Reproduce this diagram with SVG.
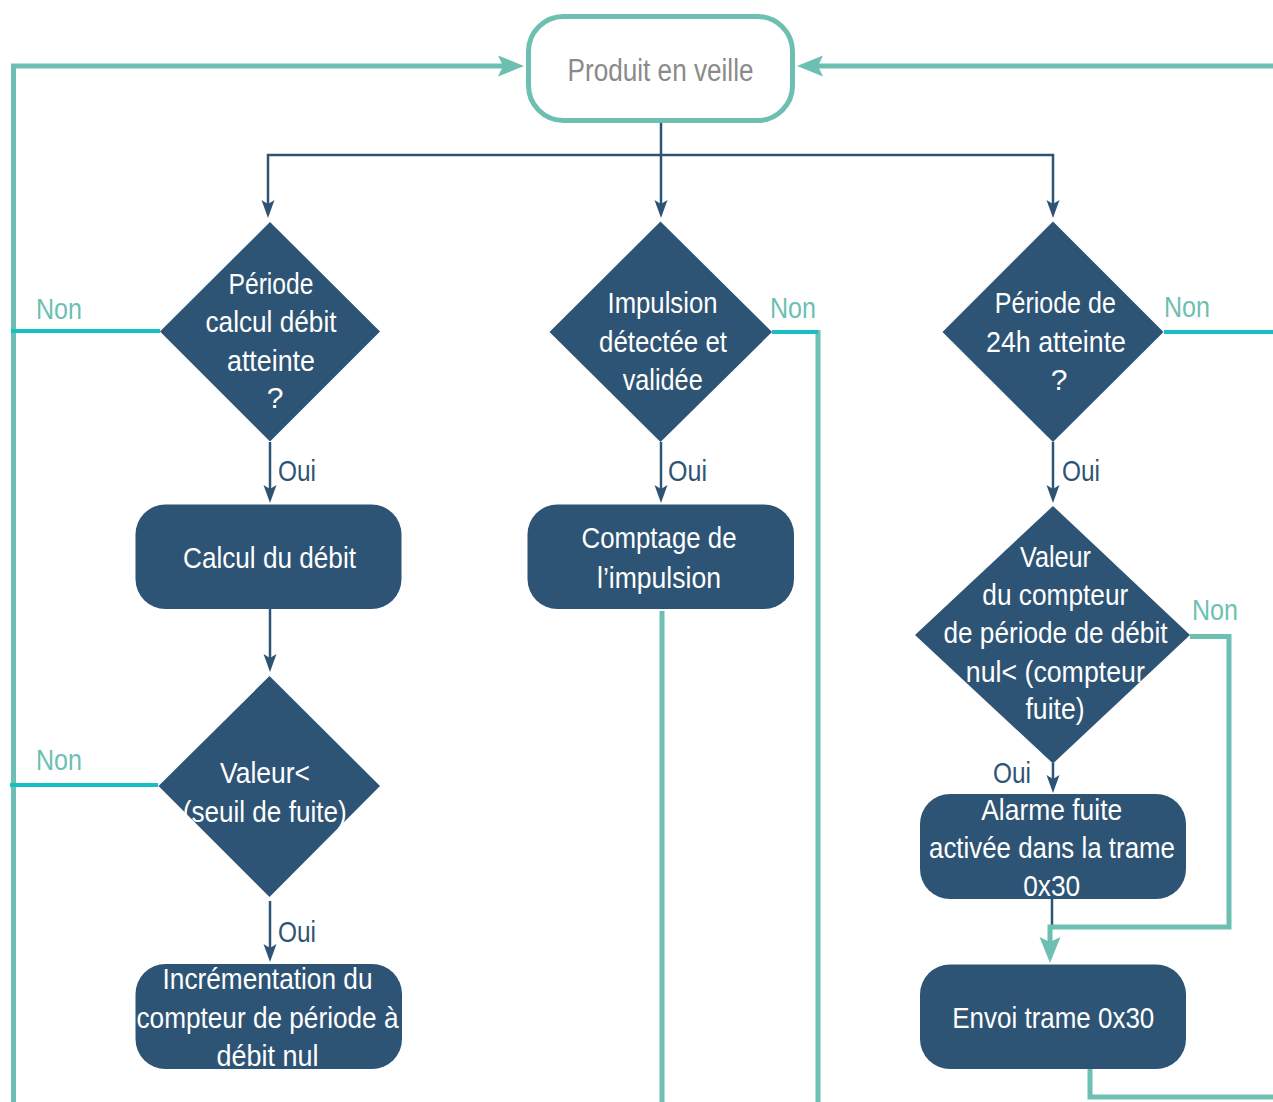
<svg xmlns="http://www.w3.org/2000/svg" width="1273" height="1102" viewBox="0 0 1273 1102">
<style>
text{font-family:"Liberation Sans","DejaVu Sans",sans-serif;font-size:30px}
.w{fill:#ffffff;text-anchor:middle}
.g{fill:#8a8a8a;text-anchor:middle;font-size:31px}
.non{fill:#6dbfb2}
.oui{fill:#2e5475}
.box{fill:#2e5475}
.blue{fill:none;stroke:#2e5475;stroke-width:2.5}
.teal{fill:none;stroke:#6dbfb2;stroke-width:5}
.cyan{fill:none;stroke:#17bfc4;stroke-width:4}
</style>
<defs>
<marker id="ab" viewBox="0 -7 18 14" markerWidth="18" markerHeight="14" refX="4" refY="0" orient="auto" markerUnits="userSpaceOnUse">
<path d="M0,-6.5 L18,0 L0,6.5 L4,0 z" fill="#2e5475"/>
</marker>
<marker id="at" viewBox="0 -11 26 22" markerWidth="26" markerHeight="22" refX="5" refY="0" orient="auto" markerUnits="userSpaceOnUse">
<path d="M0,-10.5 L26,0 L0,10.5 L5,0 z" fill="#6dbfb2"/>
</marker>
</defs>
<rect width="1273" height="1102" fill="#ffffff"/>
<g id="connectors">
<path class="blue" d="M661,123 V204" marker-end="url(#ab)"/>
<path class="blue" d="M661,155 H268 V204" marker-end="url(#ab)"/>
<path class="blue" d="M661,155 H1053 V204" marker-end="url(#ab)"/>
<path class="blue" d="M270,442 V489" marker-end="url(#ab)"/>
<path class="blue" d="M270,609 V658" marker-end="url(#ab)"/>
<path class="blue" d="M270,901 V948" marker-end="url(#ab)"/>
<path class="blue" d="M661,442 V489" marker-end="url(#ab)"/>
<path class="blue" d="M1053,442 V489" marker-end="url(#ab)"/>
<path class="blue" d="M1053,763 V779" marker-end="url(#ab)"/>
<path class="blue" d="M1052,899 V926"/>
<path class="teal" d="M13.5,1102 V66 H503" marker-end="url(#at)"/>
<path class="teal" d="M1273,66 H818" marker-end="url(#at)"/>
<path class="teal" d="M662,611 V1102"/>
<path class="teal" d="M818,330 V1102"/>
<path class="teal" d="M1190,636.5 H1229 V927 H1050 V942" marker-end="url(#at)"/>
<path class="teal" d="M1090,1069 V1097 H1273"/>
<path class="cyan" d="M160,331 H11"/>
<path class="cyan" d="M158,785 H10"/>
<path class="cyan" d="M772,332 H818"/>
<path class="cyan" d="M1164,332 H1273"/>
<text class="non" x="36" y="319" textLength="46" lengthAdjust="spacingAndGlyphs">Non</text>
<text class="non" x="36" y="770" textLength="46" lengthAdjust="spacingAndGlyphs">Non</text>
<text class="non" x="770" y="318" textLength="46" lengthAdjust="spacingAndGlyphs">Non</text>
<text class="non" x="1164" y="317" textLength="46" lengthAdjust="spacingAndGlyphs">Non</text>
<text class="non" x="1192" y="620" textLength="46" lengthAdjust="spacingAndGlyphs">Non</text>
<text class="oui" x="278" y="481" textLength="38" lengthAdjust="spacingAndGlyphs">Oui</text>
<text class="oui" x="278" y="942" textLength="38" lengthAdjust="spacingAndGlyphs">Oui</text>
<text class="oui" x="668" y="481" textLength="39" lengthAdjust="spacingAndGlyphs">Oui</text>
<text class="oui" x="1062" y="481" textLength="38" lengthAdjust="spacingAndGlyphs">Oui</text>
<text class="oui" x="993" y="783" textLength="38" lengthAdjust="spacingAndGlyphs">Oui</text>
</g>
<g id="veille">
<rect x="528.5" y="16.5" width="264" height="104" rx="35" fill="#ffffff" stroke="#6dbfb2" stroke-width="5"/>
<text class="g" x="660.5" y="81" textLength="186" lengthAdjust="spacingAndGlyphs">Produit en veille</text>
</g>
<g id="d-periode-calcul">
<polygon class="box" points="270,222 380,331.5 270,441.5 160,331.5"/>
<text class="w" x="271" y="294" textLength="85" lengthAdjust="spacingAndGlyphs">Période</text>
<text class="w" x="271" y="332" textLength="131" lengthAdjust="spacingAndGlyphs">calcul débit</text>
<text class="w" x="271" y="371" textLength="88" lengthAdjust="spacingAndGlyphs">atteinte</text>
<text class="w" x="275" y="408">?</text>
</g>
<g id="b-calcul">
<rect class="box" x="135.5" y="504.5" width="266" height="104.5" rx="30"/>
<text class="w" x="269.5" y="568" textLength="173" lengthAdjust="spacingAndGlyphs">Calcul du débit</text>
</g>
<g id="d-seuil">
<polygon class="box" points="269.5,676 380,786 269.5,897 158.5,786"/>
<text class="w" x="265" y="783" textLength="90" lengthAdjust="spacingAndGlyphs">Valeur&lt;</text>
<text class="w" x="264.7" y="822" textLength="164" lengthAdjust="spacingAndGlyphs">(seuil de fuite)</text>
</g>
<g id="b-increment">
<rect class="box" x="135.5" y="964" width="266.5" height="105" rx="30"/>
<text class="w" x="267.5" y="989" textLength="210" lengthAdjust="spacingAndGlyphs">Incrémentation du</text>
<text class="w" x="267.5" y="1028" textLength="262" lengthAdjust="spacingAndGlyphs">compteur de période à</text>
<text class="w" x="267.5" y="1066" textLength="102" lengthAdjust="spacingAndGlyphs">débit nul</text>
</g>
<g id="d-impulsion">
<polygon class="box" points="660.5,221.5 772,332 660.5,442 549.5,332"/>
<text class="w" x="662.5" y="313" textLength="110" lengthAdjust="spacingAndGlyphs">Impulsion</text>
<text class="w" x="663" y="352" textLength="128" lengthAdjust="spacingAndGlyphs">détectée et</text>
<text class="w" x="662.7" y="390" textLength="80" lengthAdjust="spacingAndGlyphs">validée</text>
</g>
<g id="b-comptage">
<rect class="box" x="527.5" y="504.5" width="266.5" height="104.5" rx="30"/>
<text class="w" x="659" y="548" textLength="155" lengthAdjust="spacingAndGlyphs">Comptage de</text>
<text class="w" x="659" y="588" textLength="124" lengthAdjust="spacingAndGlyphs">l’impulsion</text>
</g>
<g id="d-24h">
<polygon class="box" points="1053,221.5 1163.5,332 1053,442 942.5,332"/>
<text class="w" x="1055.3" y="313" textLength="121" lengthAdjust="spacingAndGlyphs">Période de</text>
<text class="w" x="1056" y="352" textLength="140" lengthAdjust="spacingAndGlyphs">24h atteinte</text>
<text class="w" x="1059" y="390">?</text>
</g>
<g id="d-compteur">
<polygon class="box" points="1053,506 1190,635 1053,763.5 915,635"/>
<text class="w" x="1055.5" y="567" textLength="71" lengthAdjust="spacingAndGlyphs">Valeur</text>
<text class="w" x="1055.3" y="605" textLength="146" lengthAdjust="spacingAndGlyphs">du compteur</text>
<text class="w" x="1055.5" y="643" textLength="224" lengthAdjust="spacingAndGlyphs">de période de débit</text>
<text class="w" x="1055.3" y="682" textLength="179" lengthAdjust="spacingAndGlyphs">nul&lt; (compteur</text>
<text class="w" x="1055" y="719" textLength="59" lengthAdjust="spacingAndGlyphs">fuite)</text>
</g>
<g id="b-alarme">
<rect class="box" x="920" y="794" width="266" height="105" rx="30"/>
<text class="w" x="1051.7" y="820" textLength="141" lengthAdjust="spacingAndGlyphs">Alarme fuite</text>
<text class="w" x="1052" y="858" textLength="246" lengthAdjust="spacingAndGlyphs">activée dans la trame</text>
<text class="w" x="1051.7" y="896" textLength="57" lengthAdjust="spacingAndGlyphs">0x30</text>
</g>
<g id="b-envoi">
<rect class="box" x="920" y="964.5" width="266" height="104.5" rx="30"/>
<text class="w" x="1053.3" y="1028" textLength="202" lengthAdjust="spacingAndGlyphs">Envoi trame 0x30</text>
</g>
</svg>
